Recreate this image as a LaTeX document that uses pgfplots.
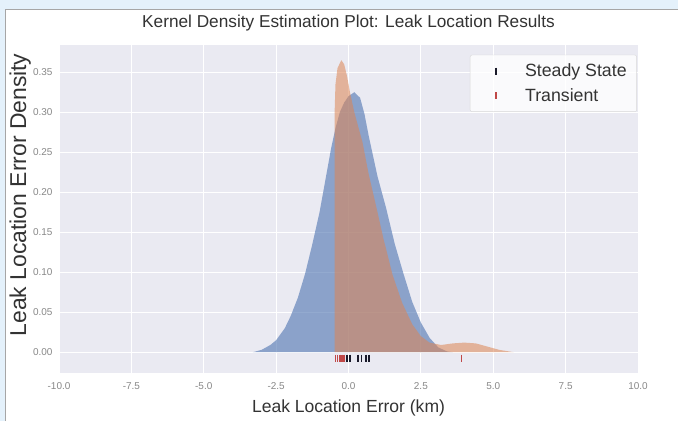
\documentclass[border=0pt]{standalone}
\usepackage{fontspec}
\setmainfont{Liberation Sans}
\usepackage{pgfplots}
\pgfplotsset{compat=1.18}
\definecolor{bgblue}{HTML}{E4F1FB}
\definecolor{sbgray}{HTML}{EAEAF2}
\definecolor{sbblue}{HTML}{4C72B0}
\definecolor{sborange}{HTML}{DD8452}
\definecolor{txt}{HTML}{333333}
\definecolor{tick}{HTML}{888888}
\definecolor{rugred}{HTML}{C04848}
\definecolor{rugdark}{HTML}{1A1A2A}
\begin{document}
\begin{tikzpicture}[x=1bp,y=1bp]
\useasboundingbox (0,0) rectangle (678,421);
\fill[bgblue] (0,0) rectangle (678,421);
\fill[white] (5,0) rectangle (678,412);
\draw[gray!70,line width=0.8bp] (5,0) -- (5,412) -- (678,412);
\begin{axis}[
  at={(59bp,48bp)}, anchor=south west,
  scale only axis, width=579bp, height=328bp,
  xmin=-10, xmax=10, ymin=-0.026, ymax=0.384,
  xtick={-10,-7.5,...,10},
  ytick={0,0.05,...,0.35},
  xticklabel style={/pgf/number format/fixed,/pgf/number format/fixed zerofill,/pgf/number format/precision=1, yshift=-6bp},
  yticklabel style={/pgf/number format/fixed,/pgf/number format/fixed zerofill,/pgf/number format/precision=2, xshift=-3bp},
  /pgf/number format/assume math mode=true,
  ticklabel style={font=\fontsize{10}{12}\selectfont, color=tick},
  axis background/.style={fill=sbgray},
  axis line style={draw=none},
  tick style={draw=none},
  grid=major,
  major grid style={white, line width=1bp},
  title={Kernel Density Estimation Plot: Leak Location Results},
  title style={at={(axis description cs:0.5,1.049)}, anchor=center, font=\fontsize{17.3}{20}\selectfont, color=txt},
  xlabel={Leak Location Error (km)},
  xlabel style={at={(axis description cs:0.5,-0.107)}, anchor=center, font=\fontsize{17.6}{20}\selectfont, color=txt},
  ylabel={Leak Location Error Density},
  ylabel style={at={(axis description cs:-0.067,0.543)}, anchor=center, font=\fontsize{23}{26}\selectfont, color=txt},
  legend style={at={(0.998,0.97)}, anchor=north east, fill=white, fill opacity=0.8, text opacity=1,
    draw=gray!30, rounded corners=2bp, font=\fontsize{17.8}{20}\selectfont, text=txt,
    inner xsep=8bp, inner ysep=7bp, row sep=6bp},
  legend image code/.code={\path[draw=none,fill=none] (0bp,-3bp) rectangle (45bp,3bp); \draw[#1] plot coordinates {(18bp,0bp)};},
  legend cell align=left,
]
% Steady State KDE
\addplot[draw=none, fill=sbblue, fill opacity=0.6, forget plot] coordinates {
(-3.3,0) (-3.0,0.003) (-2.7,0.009) (-2.5,0.015) (-2.2,0.030) (-2.0,0.045) (-1.75,0.068)
(-1.5,0.098) (-1.25,0.135) (-1.0,0.175) (-0.8,0.215) (-0.6,0.255) (-0.45,0.280)
(-0.3,0.300) (-0.15,0.312) (0.0,0.320) (0.2,0.325) (0.4,0.318) (0.55,0.298) (0.7,0.270)
(0.85,0.245) (1.0,0.220) (1.3,0.180) (1.6,0.135) (1.9,0.098) (2.2,0.063) (2.5,0.037)
(2.8,0.018) (3.1,0.006) (3.4,0.001) (3.6,0)
} \closedcycle;
% Transient KDE
\addplot[draw=none, fill=sborange, fill opacity=0.55, forget plot] coordinates {
(-0.48,0) (-0.48,0.300) (-0.45,0.335) (-0.38,0.355) (-0.25,0.365) (-0.15,0.360)
(-0.05,0.345) (0.05,0.325) (0.2,0.300) (0.35,0.280) (0.48,0.263) (0.7,0.222)
(0.97,0.180) (1.2,0.143) (1.52,0.097) (1.85,0.062) (2.2,0.035) (2.5,0.020)
(2.8,0.012) (3.2,0.009) (3.6,0.011) (4.0,0.012) (4.4,0.011) (4.8,0.007) (5.2,0.003) (5.7,0)
} \closedcycle;
% rug points
\addplot[only marks, mark=|, mark size=3.5bp, mark options={line width=1.6bp, color=rugdark}] coordinates {
(-0.05,-0.0075) (0.05,-0.0075) (0.32,-0.0075) (0.45,-0.0075) (0.6,-0.0075) (0.7,-0.0075)
};
\addlegendentry{Steady State}
\addplot[only marks, mark=|, mark size=3.5bp, mark options={line width=1.6bp, color=rugred}] coordinates {
(-0.45,-0.0075) (-0.38,-0.0075) (-0.3,-0.0075) (-0.22,-0.0075) (-0.15,-0.0075) (3.9,-0.0075)
};
\addlegendentry{Transient}
\end{axis}
\end{tikzpicture}
\end{document}
